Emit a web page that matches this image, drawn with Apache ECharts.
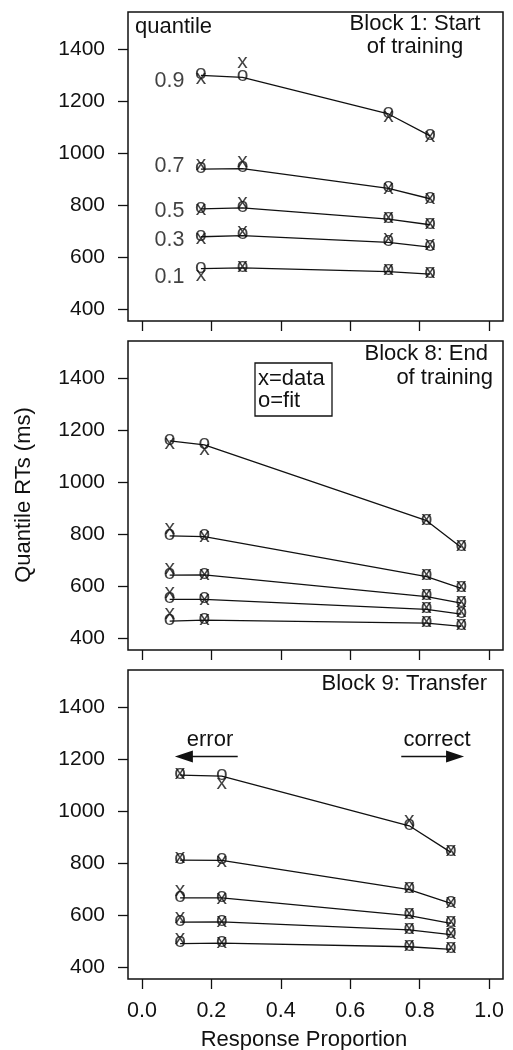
<!DOCTYPE html>
<html>
<head>
<meta charset="utf-8">
<script src="https://cdn.jsdelivr.net/npm/echarts@6/dist/echarts.min.js"></script>
<style>
html,body{margin:0;padding:0;background:#fff;}
#chart{width:513px;height:1050px;}
</style>
</head>
<body>
<div id="chart"></div>
<script>
// ---------- data ----------
const quantileNames = ['0.1', '0.3', '0.5', '0.7', '0.9'];
const xTicks = [0, 0.2, 0.4, 0.6, 0.8, 1.0];
const yTicks = [400, 600, 800, 1000, 1200, 1400];

// Block 1: Start of training
const b1Prop = [0.17, 0.29, 0.71, 0.83];
const b1Fit = [
  [557, 560, 546, 536],
  [680, 684, 658, 640],
  [787, 791, 748, 726],
  [940, 942, 866, 826],
  [1300, 1293, 1152, 1068]
];
const b1Data = [
  [525, 560, 548, 537],
  [668, 695, 665, 642],
  [777, 805, 748, 724],
  [950, 962, 858, 820],
  [1280, 1345, 1135, 1058]
];

// Block 8: End of training
const b8Prop = [0.08, 0.18, 0.82, 0.92];
const b8Fit = [
  [467, 471, 459, 447],
  [551, 551, 512, 494],
  [644, 645, 561, 536],
  [795, 792, 638, 593],
  [1160, 1145, 853, 750]
];
const b8Data = [
  [488, 468, 458, 447],
  [571, 545, 512, 496],
  [664, 640, 562, 534],
  [815, 785, 638, 592],
  [1145, 1120, 853, 750]
];

// Block 9: Transfer
const b9Prop = [0.11, 0.23, 0.77, 0.89];
const b9Fit = [
  [492, 494, 480, 470],
  [575, 576, 545, 527],
  [668, 668, 600, 570],
  [813, 812, 700, 647],
  [1140, 1136, 945, 843]
];
const b9Data = [
  [507, 488, 480, 470],
  [585, 570, 545, 525],
  [690, 658, 600, 570],
  [818, 802, 700, 645],
  [1140, 1100, 958, 843]
];

// arrow annotations (data coordinates) for the transfer panel
const errorArrow = {from: [0.276, 1211], to: [0.121, 1211]};
const correctArrow = {from: [0.747, 1211], to: [0.902, 1211]};

// ---------- chart ----------
const FONT = "'Liberation Sans', Arial, Helvetica, sans-serif";
const INK = '#111';
const blocks = [
  {prop: b1Prop, fit: b1Fit, data: b1Data},
  {prop: b8Prop, fit: b8Fit, data: b8Data},
  {prop: b9Prop, fit: b9Fit, data: b9Data}
];
const gridTops = [12, 341, 670];

const grids = [], xAxes = [], yAxes = [], series = [];
blocks.forEach((b, g) => {
  grids.push({left: 128, width: 375, top: gridTops[g], height: 309,
    show: true, borderColor: INK, borderWidth: 1.5, backgroundColor: 'transparent'});
  xAxes.push({
    gridIndex: g, type: 'value', min: -0.04, max: 1.04,
    axisLine: {show: false, onZero: false}, splitLine: {show: false},
    axisTick: {show: true, inside: false, length: 10, customValues: xTicks,
      lineStyle: {color: INK, width: 1.3}},
    axisLabel: {show: g === 2, customValues: xTicks, margin: 21,
      formatter: v => v.toFixed(1), fontSize: 21.5, color: INK, fontFamily: FONT}
  });
  yAxes.push({
    gridIndex: g, type: 'value', min: 356, max: 1544,
    axisLine: {show: false, onZero: false}, splitLine: {show: false},
    axisTick: {show: true, inside: false, length: 10, customValues: yTicks,
      lineStyle: {color: INK, width: 1.3}},
    axisLabel: {show: true, customValues: yTicks, margin: 23,
      formatter: v => String(Math.round(v)),
      fontSize: 21, color: INK, fontFamily: FONT}
  });
  b.fit.forEach((row, q) => {
    series.push({
      type: 'line', xAxisIndex: g, yAxisIndex: g, symbol: 'none',
      lineStyle: {color: INK, width: 1.3}, z: 2, silent: true,
      data: b.prop.map((p, i) => [p, row[i]])
    });
  });
  const markerLabel = (ch) => ({show: true, position: 'inside', formatter: ch,
    fontSize: 21, color: INK, fontFamily: FONT, offset: [0, -2]});
  series.push({
    type: 'scatter', xAxisIndex: g, yAxisIndex: g, symbolSize: 1, z: 3, silent: true,
    itemStyle: {color: 'rgba(0,0,0,0)'}, label: markerLabel('o'),
    data: b.fit.flatMap(row => b.prop.map((p, i) => [p, row[i]]))
  });
  series.push({
    type: 'scatter', xAxisIndex: g, yAxisIndex: g, symbolSize: 1, z: 3, silent: true,
    itemStyle: {color: 'rgba(0,0,0,0)'}, label: markerLabel('x'),
    data: b.data.flatMap(row => b.prop.map((p, i) => [p, row[i]]))
  });
});

// quantile names in panel 1
series.push({
  type: 'scatter', xAxisIndex: 0, yAxisIndex: 0, symbolSize: 1, silent: true,
  itemStyle: {color: 'rgba(0,0,0,0)'},
  label: {show: true, position: 'left', distance: 16, formatter: '{b}',
    fontSize: 21.5, color: INK, fontFamily: FONT},
  data: quantileNames.map((n, q) => ({name: n, value: [b1Prop[0], b1Data[q][0]]}))
});

// arrows in panel 3
series.push({
  type: 'scatter', xAxisIndex: 2, yAxisIndex: 2, data: [], silent: true,
  markLine: {
    silent: true, animation: false,
    lineStyle: {color: INK, width: 1.3, type: 'solid'},
    label: {show: false},
    data: [errorArrow, correctArrow].map(a => [
      {coord: a.from, symbol: 'none'},
      {coord: a.to, symbol: 'triangle', symbolSize: [12, 18]}
    ])
  }
});

function txt(text, x, y, align, extra) {
  return Object.assign({type: 'text', x: x, y: y, silent: true,
    style: {text: text, font: '22px ' + FONT, fill: INK,
      align: align || 'center', verticalAlign: 'middle'}}, extra || {});
}

const graphics = [
  txt('quantile', 135, 27, 'left'),
  txt('Block 1: Start', 415, 24, 'center'),
  txt('of training', 415, 46.5, 'center'),
  txt('Block 8: End', 488, 354, 'right'),
  txt('of training', 493, 378, 'right'),
  txt('Block 9: Transfer', 487, 684, 'right'),
  txt('error', 210, 740, 'center'),
  txt('correct', 437, 740, 'center'),
  {type: 'rect', silent: true, shape: {x: 255, y: 363, width: 77, height: 53},
    style: {fill: 'none', stroke: INK, lineWidth: 1.3}},
  txt('x=data', 258, 378.5, 'left'),
  txt('o=fit', 258, 400.5, 'left'),
  txt('Quantile RTs (ms)', 24, 495, 'center', {rotation: Math.PI / 2}),
  txt('Response Proportion', 304, 1040, 'center')
];

const chart = echarts.init(document.getElementById('chart'), null, {renderer: 'canvas'});
chart.setOption({
  animation: false,
  backgroundColor: '#fff',
  textStyle: {fontFamily: FONT},
  grid: grids, xAxis: xAxes, yAxis: yAxes, series: series,
  graphic: graphics
});
</script>
</body>
</html>
